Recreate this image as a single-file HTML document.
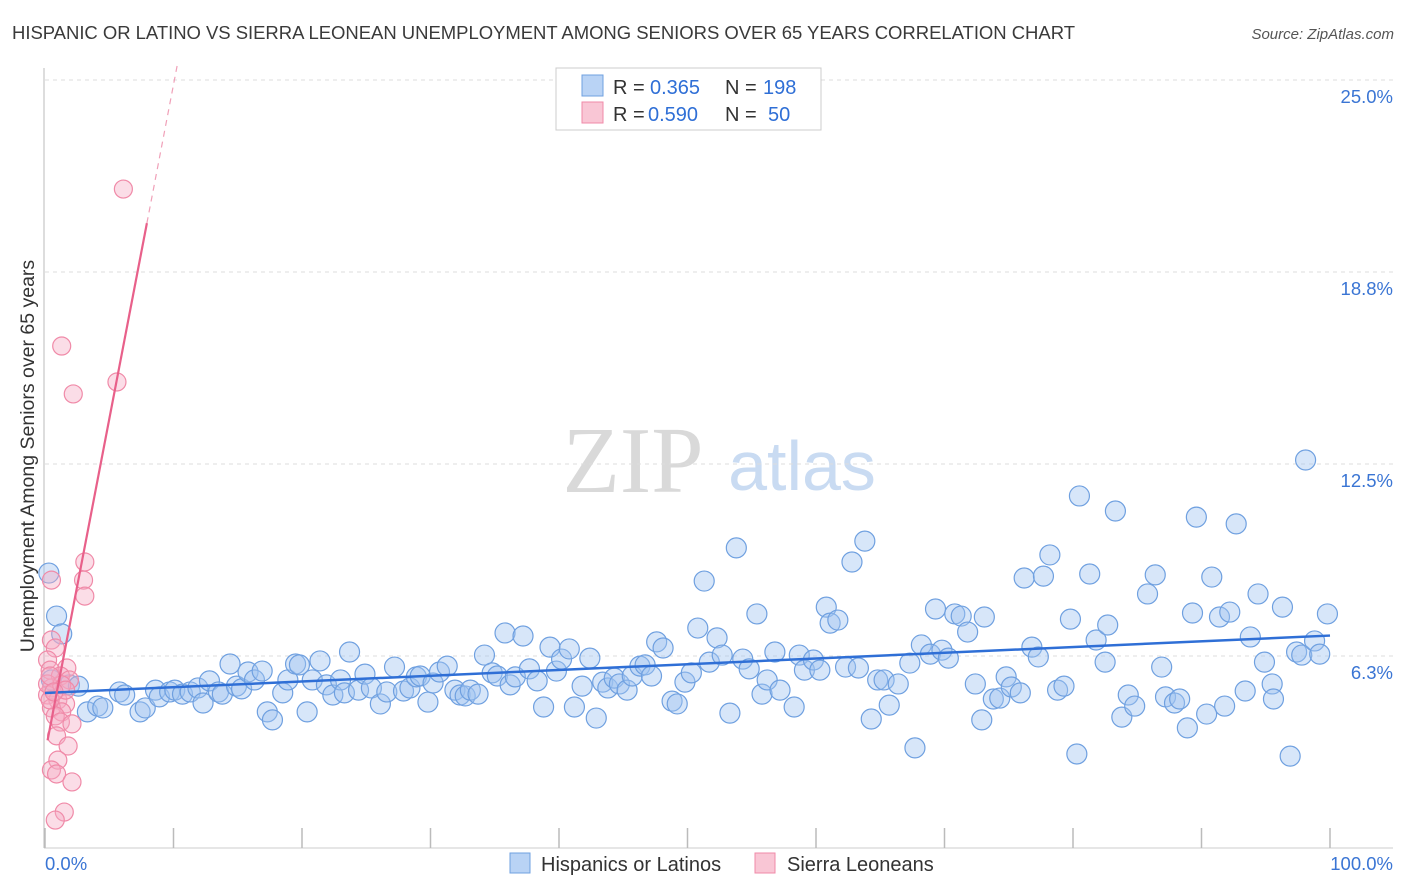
<!DOCTYPE html>
<html><head><meta charset="utf-8"><style>
body{margin:0;background:#fff;font-family:"Liberation Sans",sans-serif;}
svg{display:block}
</style></head><body>
<svg id="chart" width="1406" height="892">
<text x="12" y="39" font-size="18.5" fill="#3a3a3a" textLength="1063">HISPANIC OR LATINO VS SIERRA LEONEAN UNEMPLOYMENT AMONG SENIORS OVER 65 YEARS CORRELATION CHART</text>
<text x="1394" y="39" font-size="15" fill="#555" text-anchor="end" font-style="italic">Source: ZipAtlas.com</text>
<text x="34" y="456" font-size="19.5" fill="#333" text-anchor="middle" transform="rotate(-90 34 456)">Unemployment Among Seniors over 65 years</text>
<g>
<text x="633" y="492" font-size="94" fill="#d9d9d9" text-anchor="middle" font-family="Liberation Serif,serif">ZIP</text>
<text x="802" y="490" font-size="70" fill="#c9dbf2" text-anchor="middle">atlas</text>
</g>
<g id="grid"></g><g id="marks"></g><g id="lines"></g>
<g>
<rect x="556" y="68" width="265" height="62" fill="#fff" stroke="#ccc"/>
<rect x="582" y="75" width="21" height="21" fill="#b9d3f5" stroke="#6fa0e0"/>
<rect x="582" y="102" width="21" height="21" fill="#f9c6d5" stroke="#f08aa8"/>
<g font-size="20" fill="#333">
<text x="613" y="94">R =</text><text x="650" y="94" fill="#2f6fd6">0.365</text>
<text x="725" y="94">N =</text><text x="763" y="94" fill="#2f6fd6">198</text>
<text x="613" y="121">R =</text><text x="648" y="121" fill="#2f6fd6">0.590</text>
<text x="725" y="121">N =</text><text x="768" y="121" fill="#2f6fd6">50</text>
</g>
</g>
<g>
<rect x="510" y="853" width="20" height="20" fill="#b9d3f5" stroke="#6fa0e0"/>
<text x="541" y="871" font-size="20" fill="#333">Hispanics or Latinos</text>
<rect x="755" y="853" width="20" height="20" fill="#f9c6d5" stroke="#f08aa8"/>
<text x="787" y="871" font-size="20" fill="#333">Sierra Leoneans</text>
</g>
</svg>
<script>
const yTicks=[6.25,12.5,18.75,25];
const yTickLabels=["6.3%","12.5%","18.8%","25.0%"];
const xTicks=[0,10,20,30,40,50,60,70,80,90,100];
const blueX=[0.3,0.9,1.3,0.5,1.9,2.6,3.3,4.1,4.5,5.8,6.2,7.4,7.8,8.6,8.9,9.7,10.1,10.7,11.3,11.9,12.3,12.8,13.5,13.8,14.4,14.9,15.3,15.8,16.3,16.9,17.3,17.7,18.5,18.9,19.5,19.8,20.4,20.8,21.4,21.9,22.4,23.0,23.3,23.7,24.4,24.9,25.4,26.1,26.6,27.2,27.9,28.4,28.9,29.2,29.8,30.2,30.7,31.3,31.9,32.3,32.7,33.1,33.7,34.2,34.8,35.2,35.8,36.2,36.6,37.2,37.7,38.3,38.8,39.3,39.8,40.2,40.8,41.2,41.8,42.4,42.9,43.4,43.8,44.3,44.7,45.3,45.7,46.3,46.7,47.2,47.6,48.1,48.8,49.2,49.8,50.3,50.8,51.3,51.7,52.3,52.7,53.3,53.8,54.3,54.8,55.4,55.8,56.2,56.8,57.2,58.3,58.7,59.1,59.8,60.3,60.8,61.1,61.7,62.3,62.8,63.3,63.8,64.3,64.8,65.3,65.7,66.4,67.3,67.7,68.2,68.9,69.3,69.8,70.3,70.8,71.3,71.8,72.4,72.9,73.1,73.8,74.3,74.8,75.2,75.9,76.2,76.8,77.3,77.7,78.2,78.8,79.3,79.8,80.3,80.5,81.3,81.8,82.5,82.7,83.3,83.8,84.3,84.8,85.8,86.4,86.9,87.2,87.9,88.3,88.9,89.3,89.6,90.4,90.8,91.4,91.8,92.2,92.7,93.4,93.8,94.4,94.9,95.5,95.6,96.3,96.9,97.4,97.8,98.1,98.8,99.2,99.8];
const blueY=[8.95,7.55,6.97,5.47,5.31,5.27,4.43,4.62,4.56,5.08,4.98,4.43,4.56,5.14,4.92,5.08,5.14,5.01,5.08,5.21,4.72,5.44,5.08,5.01,5.99,5.27,5.18,5.73,5.47,5.76,4.43,4.17,5.05,5.47,5.99,5.96,4.43,5.47,6.09,5.31,4.98,5.47,5.05,6.38,5.14,5.66,5.21,4.69,5.08,5.89,5.11,5.21,5.57,5.60,4.75,5.37,5.73,5.92,5.14,4.98,4.95,5.14,5.01,6.28,5.70,5.60,7.00,5.31,5.57,6.90,5.83,5.44,4.59,6.54,5.76,6.15,6.48,4.59,5.27,6.18,4.23,5.40,5.21,5.53,5.34,5.14,5.60,5.92,5.96,5.60,6.71,6.51,4.78,4.69,5.40,5.70,7.16,8.69,6.05,6.84,6.28,4.39,9.77,6.15,5.83,7.62,5.01,5.47,6.38,5.14,4.59,6.28,5.79,6.12,5.79,7.84,7.32,7.42,5.89,9.31,5.86,9.99,4.20,5.47,5.47,4.65,5.34,6.02,3.26,6.61,6.31,7.78,6.44,6.18,7.62,7.55,7.03,5.34,4.17,7.52,4.85,4.88,5.57,5.24,5.05,8.79,6.54,6.22,8.85,9.54,5.14,5.27,7.45,3.06,11.46,8.92,6.77,6.05,7.26,10.97,4.26,4.98,4.62,8.27,8.89,5.89,4.92,4.72,4.85,3.91,7.65,10.77,4.36,8.82,7.52,4.62,7.68,10.55,5.11,6.87,8.27,6.05,5.34,4.85,7.84,2.99,6.38,6.28,12.63,6.74,6.31,7.62];
const pinkX=[6.1,1.3,5.6,2.2,3.1,3.0,0.5,3.1,0.5,0.8,0.2,1.7,0.4,1.2,1.9,0.5,0.2,1.0,1.6,0.5,1.3,0.8,1.2,2.1,0.9,1.8,1.0,0.5,0.9,2.1,1.5,0.8,0.2,0.4,1.3,1.6,0.4,0.7];
const pinkY=[21.45,16.34,15.17,14.78,9.31,8.72,8.72,8.20,6.77,6.51,6.12,5.86,5.79,5.60,5.47,5.21,4.98,4.82,4.69,4.56,4.43,4.30,4.10,4.04,3.65,3.32,2.86,2.54,2.41,2.15,1.17,0.91,5.34,4.82,5.31,5.14,5.60,5.08];
const NS="http://www.w3.org/2000/svg";
const X0=45,X1=1330,YB=848,YT=80;
const sx=v=>X0+(X1-X0)*v/100;
const sy=v=>YB-(YB-YT)*v/25;
function mk(tag,attrs,parent){const e=document.createElementNS(NS,tag);for(const k in attrs)e.setAttribute(k,attrs[k]);parent.appendChild(e);return e;}
const grid=document.getElementById('grid');
yTicks.forEach((t,i)=>{
 const l=mk('line',{x1:X0,x2:1393,y1:sy(t),y2:sy(t),stroke:'#ddd','stroke-dasharray':'4,4'},grid);
 
 
 const tx=mk('text',{x:1393,y:sy(t)+23,'font-size':18.5,fill:'#3a75d4','text-anchor':'end'},grid);
 tx.textContent=yTickLabels[i];
 
 
});
const ax=mk('line',{x1:44,x2:44,y1:68,y2:YB,stroke:'#bbb'},grid);


const bx=mk('line',{x1:44,x2:1393,y1:YB,y2:YB,stroke:'#ccc'},grid);


xTicks.forEach(t=>{
 const l=mk('line',{x1:sx(t),x2:sx(t),y1:828,y2:YB,stroke:'#bbb','stroke-width':1.5},grid);
 
 
});
const xl0=mk('text',{x:45,y:870,'font-size':18.5,fill:'#3a75d4'},grid);xl0.textContent='0.0%';


const xl1=mk('text',{x:1393,y:870,'font-size':18.5,fill:'#3a75d4','text-anchor':'end'},grid);xl1.textContent='100.0%';


const marks=document.getElementById('marks');
blueX.forEach((v,i)=>{
 const c=mk('circle',{cx:sx(v),cy:sy(blueY[i]),r:10,fill:'rgba(160,196,240,0.42)',stroke:'#6fa0e0','stroke-width':1.2},marks);
 
 
});
pinkX.forEach((v,i)=>{
 const c=mk('circle',{cx:sx(v),cy:sy(pinkY[i]),r:9,fill:'rgba(245,170,195,0.4)',stroke:'#f08aa8','stroke-width':1.2},marks);
 
 
});
function fit(xs,ys){const n=xs.length;let mx=0,my=0;xs.forEach((x,i)=>{mx+=x;my+=ys[i];});mx/=n;my/=n;let sxy=0,sxx=0;xs.forEach((x,i)=>{sxy+=(x-mx)*(ys[i]-my);sxx+=(x-mx)*(x-mx);});const b=sxy/sxx;return [my-b*mx,b];}
const lines=document.getElementById('lines');
const [ba,bb]=fit(blueX,blueY);
const bl=mk('line',{x1:sx(0),y1:sy(ba),x2:sx(100),y2:sy(ba+bb*100),stroke:'#2f6fd6','stroke-width':2.5},lines);


const [pa,pb]=fit(pinkX,pinkY);
const pxEnd=Math.max(...pinkX)*1.3;
const pl=mk('line',{x1:sx(0.2),y1:sy(pa+pb*0.2),x2:sx(pxEnd),y2:sy(pa+pb*pxEnd),stroke:'#e8608a','stroke-width':2.2},lines);


const xTop=(25.5-pa)/pb;
const pd=mk('line',{x1:sx(pxEnd),y1:sy(pa+pb*pxEnd),x2:sx(xTop),y2:sy(25.5),stroke:'#f0a0b8','stroke-width':1.2,'stroke-dasharray':'6,5'},lines);


</script>
</body></html>
